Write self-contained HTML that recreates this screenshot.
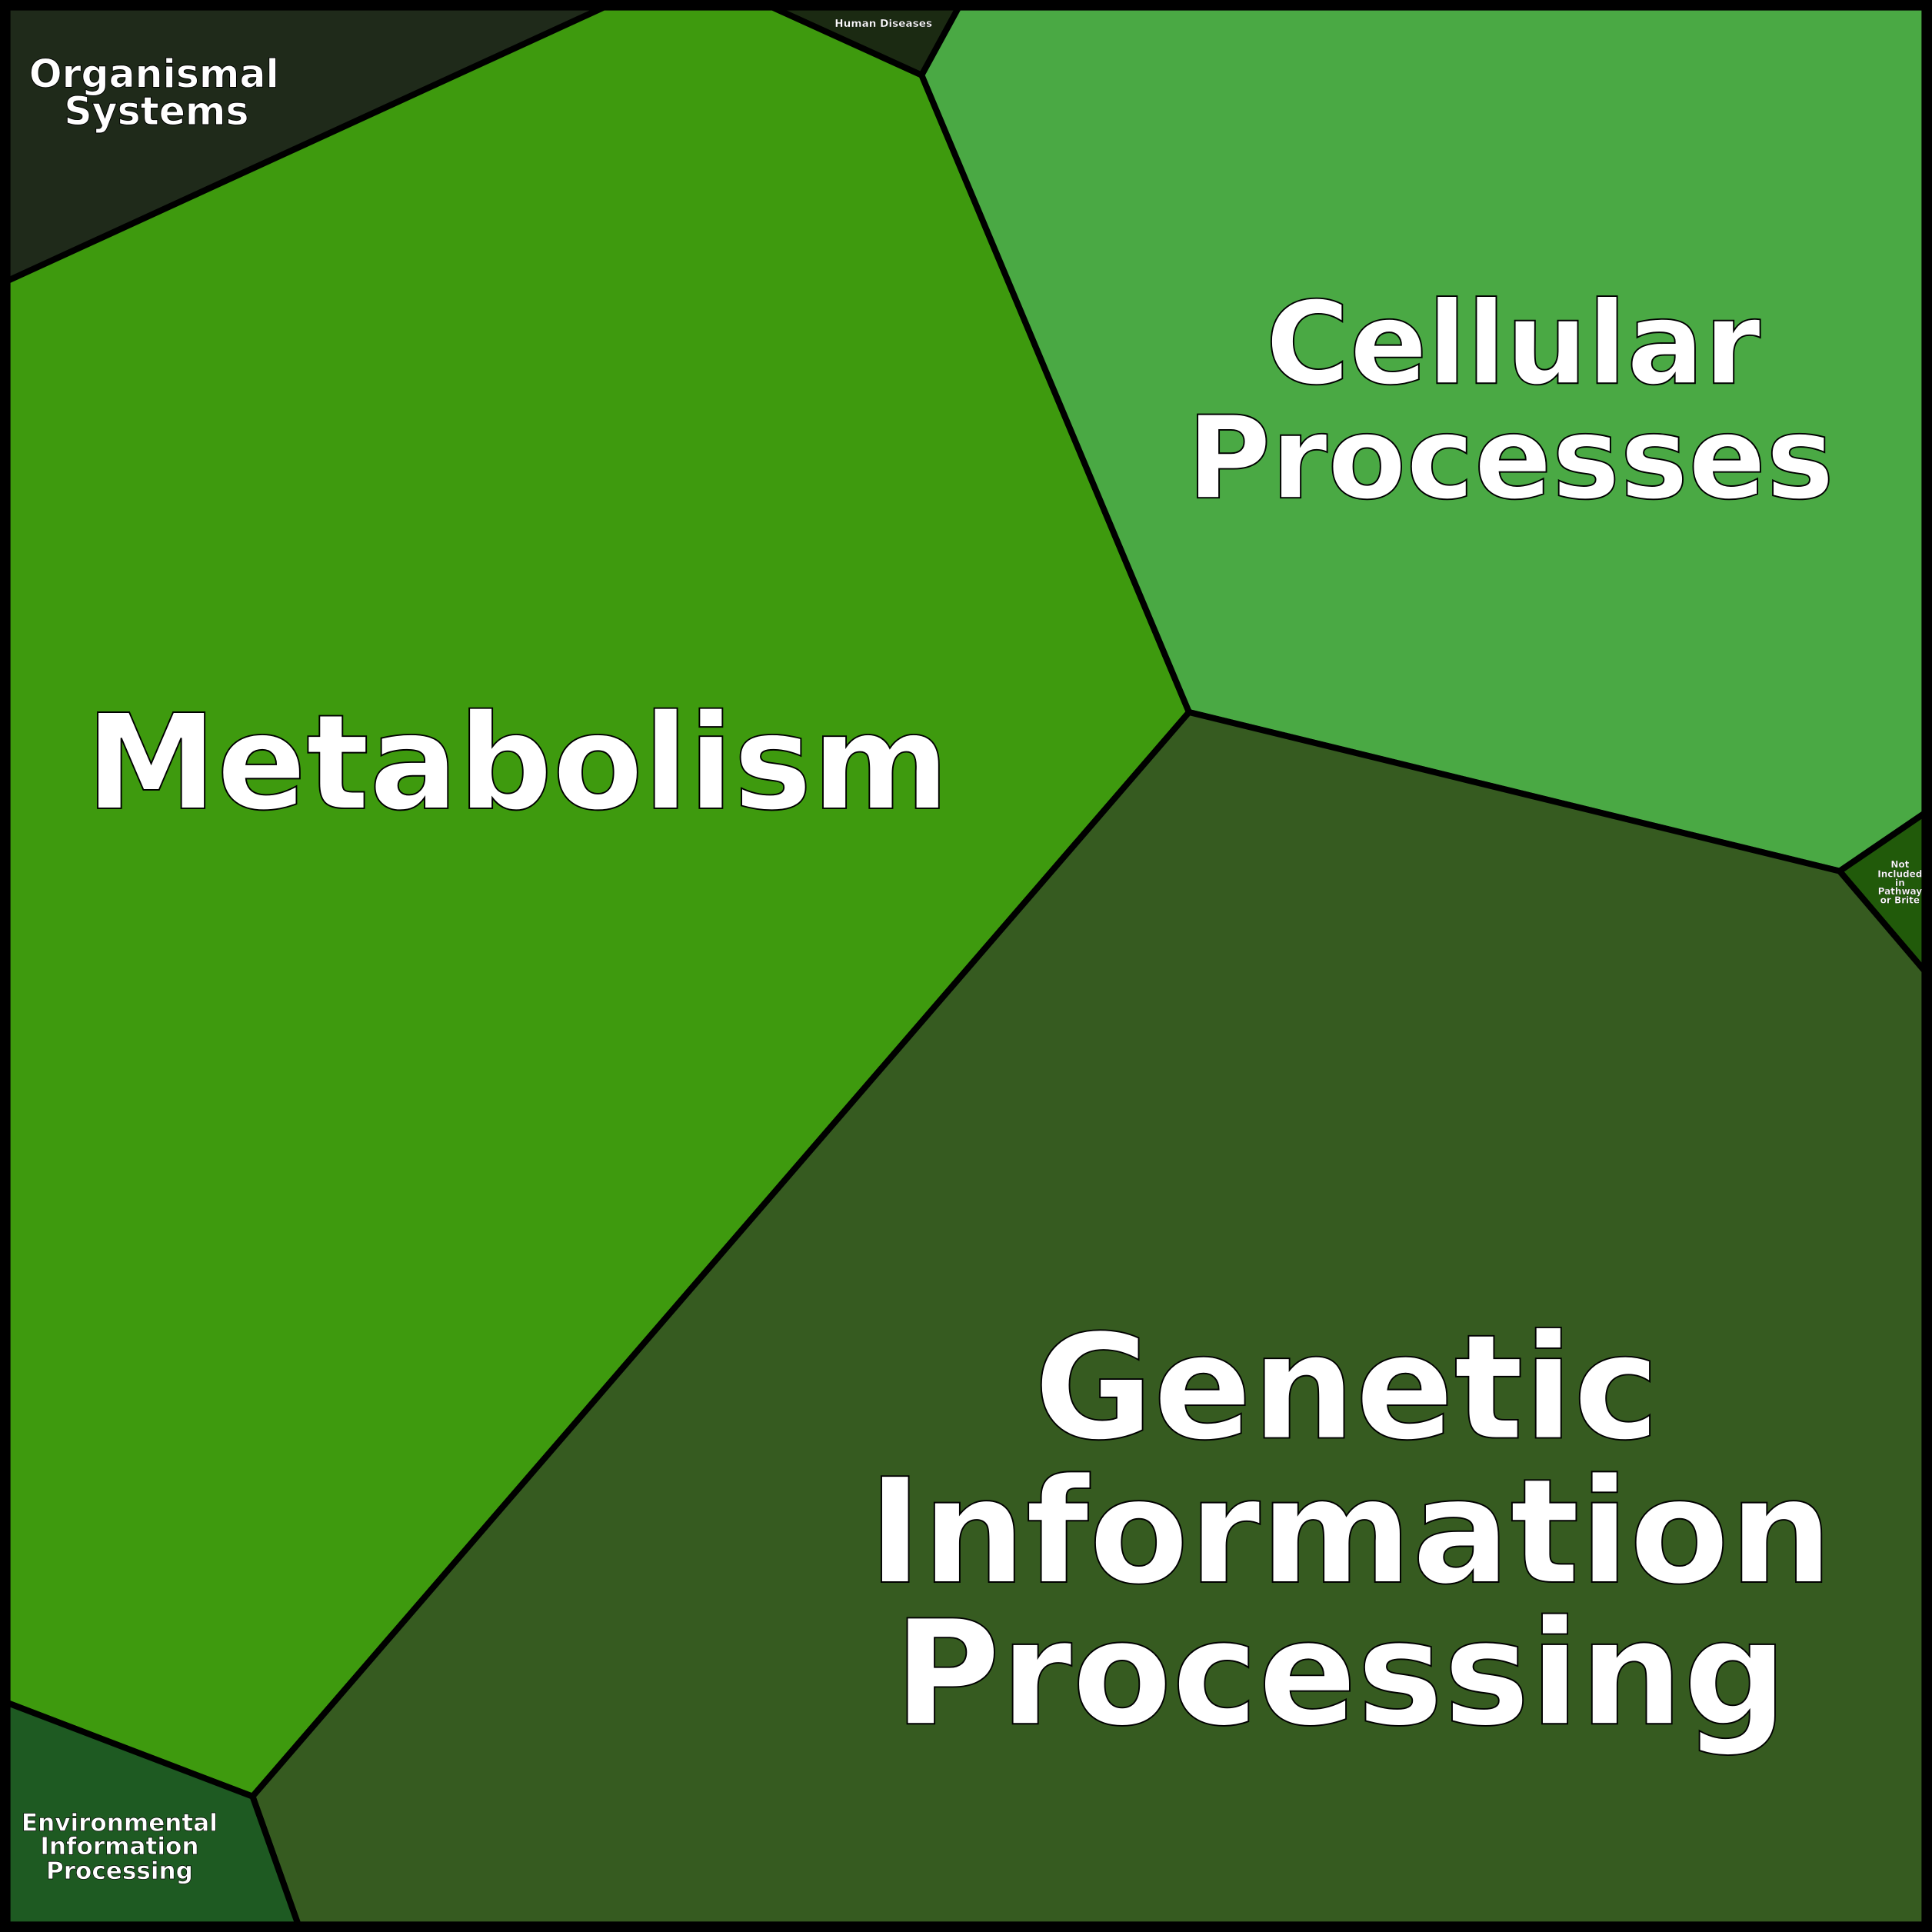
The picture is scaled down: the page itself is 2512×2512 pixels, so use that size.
<!DOCTYPE html>
<html><head><meta charset="utf-8"><style>html,body{margin:0;padding:0;background:#000}svg{display:block}text{font-family:"DejaVu Sans","Liberation Sans",sans-serif;font-weight:bold;fill:#fff;stroke:#000;text-anchor:middle}</style></head><body>
<svg width="2512" height="2512" viewBox="0 0 1568 1568" xmlns="http://www.w3.org/2000/svg">
<rect x="0" y="0" width="1568" height="1568" fill="#000"/>
<g stroke="#000" stroke-width="5" stroke-linejoin="round">
<polygon points="6,6 490,6 6,228" fill="#1f2a1a"/>
<polygon points="627,6 778,6 748,61" fill="#1b2a12"/>
<polygon points="490,6 627,6 748,61 965,578 205,1458 6,1382 6,228" fill="#3e9a0e"/>
<polygon points="778,6 1562,6 1562,660 1493,707 965,578 748,61" fill="#4aa944"/>
<polygon points="1562,660 1562,788 1493,707" fill="#215a0a"/>
<polygon points="965,578 1493,707 1562,788 1562,1562 242,1562 205,1458" fill="#365b20"/>
<polygon points="6,1382 205,1458 242,1562 6,1562" fill="#1e5a22"/>
</g>
<rect x="3" y="3" width="1562" height="1562" fill="none" stroke="#000" stroke-width="6"/>
<g style="font-weight:900">
<text x="125" y="71" font-size="31.5" stroke-width="0.6">Organismal</text>
<text x="127" y="101" font-size="31.5" stroke-width="0.6">Systems</text>
<text x="717" y="22" font-size="8.5" stroke-width="0.2">Human Diseases</text>
<text x="420" y="656" font-size="107" stroke-width="1.2">Metabolism</text>
<text x="1228" y="311" font-size="93" stroke-width="1.2">Cellular</text>
<text x="1226" y="404" font-size="93" stroke-width="1.2">Processes</text>
<text x="1093" y="1167" font-size="118" stroke-width="1.2">Genetic</text>
<text x="1096" y="1284" font-size="118" stroke-width="1.2">Information</text>
<text x="1088" y="1399" font-size="118" stroke-width="1.2">Processing</text>
<text x="97" y="1486" font-size="19.4" stroke-width="0.4">Environmental</text>
<text x="97" y="1505" font-size="19.4" stroke-width="0.4">Information</text>
<text x="97" y="1525" font-size="19.4" stroke-width="0.4">Processing</text>
<g font-size="7.5" stroke-width="0.15">
<text x="1542" y="704">Not</text>
<text x="1542" y="712">Included</text>
<text x="1542" y="719">in</text>
<text x="1542" y="726">Pathway</text>
<text x="1542" y="733">or Brite</text>
</g>
</g>
</svg>
</body></html>
